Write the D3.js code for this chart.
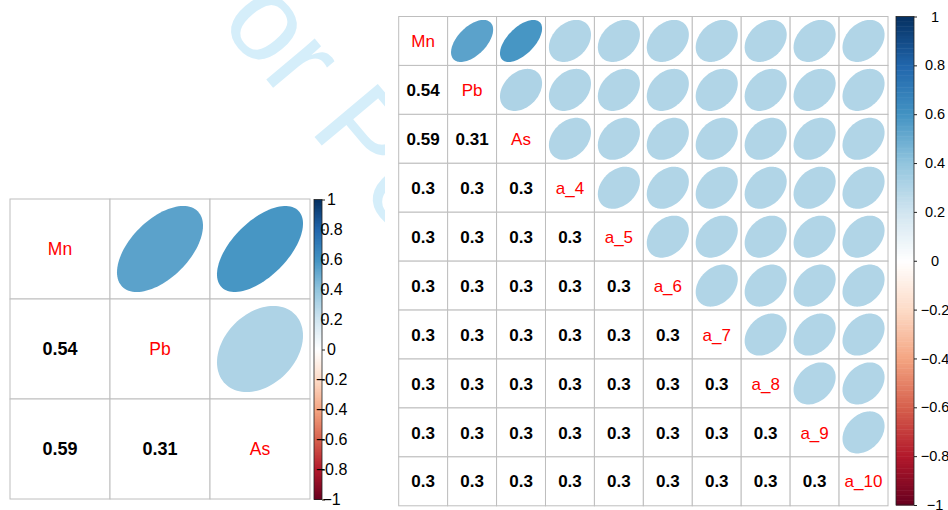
<!DOCTYPE html>
<html>
<head>
<meta charset="utf-8">
<script src="https://cdn.jsdelivr.net/npm/d3@7"></script>
<style>
  html, body { margin: 0; padding: 0; background: #fff; }
  svg { display: block; font-family: "Liberation Sans", Arial, Helvetica, sans-serif; }
</style>
</head>
<body>
<svg id="chart" width="948" height="510"></svg>
<script>
// Variables and lower-triangle correlations, small matrix
const smallVars = ["Mn", "Pb", "As"];
const smallLower = [
  [],
  [0.54],
  [0.59, 0.31]
];

// Variables and lower-triangle correlations, extended matrix
const bigVars = ["Mn", "Pb", "As", "a_4", "a_5", "a_6", "a_7", "a_8", "a_9", "a_10"];
const bigLower = [
  [],
  [0.54],
  [0.59, 0.31],
  [0.3, 0.3, 0.3],
  [0.3, 0.3, 0.3, 0.3],
  [0.3, 0.3, 0.3, 0.3, 0.3],
  [0.3, 0.3, 0.3, 0.3, 0.3, 0.3],
  [0.3, 0.3, 0.3, 0.3, 0.3, 0.3, 0.3],
  [0.3, 0.3, 0.3, 0.3, 0.3, 0.3, 0.3, 0.3],
  [0.3, 0.3, 0.3, 0.3, 0.3, 0.3, 0.3, 0.3, 0.3]
];

// Colour legend tick values and labels
const legendTicks = [1, 0.8, 0.6, 0.4, 0.2, 0, -0.2, -0.4, -0.6, -0.8, -1];
const legendLabels = ["1", "0.8", "0.6", "0.4", "0.2", "0", "\u22120.2", "\u22120.4", "\u22120.6", "\u22120.8", "\u22121"];

// Diverging red-blue palette, -1 .. 1
const palette = ["#67001F", "#B2182B", "#D6604D", "#F4A582", "#FDDBC7", "#FFFFFF",
                 "#D1E5F0", "#92C5DE", "#4393C3", "#2166AC", "#053061"];
const color = d3.scaleLinear()
  .domain(d3.range(palette.length).map(i => -1 + 2 * i / (palette.length - 1)))
  .range(palette)
  .interpolate(d3.interpolateRgb);

const svg = d3.select("#chart");

// Diagonal watermark
svg.append("text")
  .attr("transform", "translate(171,-34) rotate(50)")
  .attr("font-size", 120)
  .attr("fill", "#d5eefa")
  .text("For Peer Review");

// White backdrop of the extended panel
svg.append("rect")
  .attr("x", 385).attr("y", 0).attr("width", 948 - 385).attr("height", 510)
  .attr("fill", "#fff");

// Ellipse outline for a correlation r in a unit cell (centre 0, y up)
function ellipsePoints(r, n = 100) {
  const d = Math.acos(r);
  return d3.range(n).map(i => {
    const k = 2 * Math.PI * i / n;
    return [Math.cos(k + d / 2) / 2, Math.cos(k - d / 2) / 2];
  });
}

function buildMatrix(vars, lower) {
  const n = vars.length;
  const m = vars.map((_, i) => vars.map((_, j) => {
    if (i === j) return 1;
    return i > j ? lower[i][j] : lower[j][i];
  }));
  return m;
}

function corrPanel(opts) {
  const { vars, lower, x0, y0, size, numSize, labSize, bar } = opts;
  const m = buildMatrix(vars, lower);
  const g = svg.append("g");
  const x = d3.scaleBand().domain(vars).range([x0, x0 + size]);
  const y = d3.scaleBand().domain(vars).range([y0, y0 + size]);
  const bw = x.bandwidth();

  const cells = [];
  vars.forEach((ri, i) => vars.forEach((cj, j) => cells.push({ i, j, row: ri, col: cj, v: m[i][j] })));

  // grid
  g.selectAll("rect.cell").data(cells).join("rect")
    .attr("class", "cell")
    .attr("x", d => x(d.col)).attr("y", d => y(d.row))
    .attr("width", bw).attr("height", bw)
    .attr("fill", "#fff").attr("stroke", "#bebebe").attr("stroke-width", 1);

  // upper triangle: ellipses
  const line = d3.line();
  const s = 0.86 * bw;
  g.selectAll("path.ell").data(cells.filter(d => d.j > d.i)).join("path")
    .attr("class", "ell")
    .attr("d", d => {
      const cx = x(d.col) + bw / 2, cy = y(d.row) + bw / 2;
      return line(ellipsePoints(d.v).map(p => [cx + p[0] * s, cy - p[1] * s])) + "Z";
    })
    .attr("fill", d => color(d.v));

  // lower triangle: numbers
  g.selectAll("text.num").data(cells.filter(d => d.i > d.j)).join("text")
    .attr("class", "num")
    .attr("x", d => x(d.col) + bw / 2).attr("y", d => y(d.row) + bw / 2)
    .attr("text-anchor", "middle").attr("dy", "0.36em")
    .attr("font-size", numSize).attr("font-weight", "bold").attr("fill", "#000")
    .text(d => String(d.v));

  // diagonal: variable names
  g.selectAll("text.lab").data(cells.filter(d => d.i === d.j)).join("text")
    .attr("class", "lab")
    .attr("x", d => x(d.col) + bw / 2).attr("y", d => y(d.row) + bw / 2)
    .attr("text-anchor", "middle").attr("dy", "0.36em")
    .attr("font-size", labSize).attr("fill", "#ff0000")
    .text(d => d.row);

  // colour legend
  const ly = d3.scaleLinear().domain([-1, 1]).range([bar.y1, bar.y0]);
  const steps = d3.range(200).map(i => -1 + 2 * i / 200);
  const step = 2 / 200;
  g.selectAll("rect.cl").data(steps).join("rect")
    .attr("class", "cl")
    .attr("x", bar.x).attr("width", bar.w)
    .attr("y", d => ly(d + step))
    .attr("height", d => ly(d) - ly(d + step) + 0.5)
    .attr("fill", d => color(d + step / 2));
  g.append("rect")
    .attr("x", bar.x).attr("y", bar.y0).attr("width", bar.w).attr("height", bar.y1 - bar.y0)
    .attr("fill", "none").attr("stroke", "#222").attr("stroke-width", 0.8);

  const axis = d3.axisRight(ly).tickValues(legendTicks).tickSize(3)
    .tickFormat((d, i) => legendLabels[i]);
  const ag = g.append("g").attr("transform", `translate(${bar.x + bar.w},0)`).call(axis);
  ag.select(".domain").remove();
  ag.selectAll(".tick line").attr("stroke", "#222");
  ag.selectAll(".tick text")
    .attr("x", bar.labelX - (bar.x + bar.w))
    .attr("text-anchor", "middle")
    .attr("font-size", bar.fontSize)
    .attr("font-family", "Liberation Sans, Arial, Helvetica, sans-serif")
    .attr("fill", "#000");
}

corrPanel({
  vars: smallVars, lower: smallLower,
  x0: 10, y0: 199, size: 300, numSize: 18, labSize: 17.5,
  bar: { x: 314, w: 8, y0: 199.5, y1: 499.5, labelX: 331.5, fontSize: 16 }
});

corrPanel({
  vars: bigVars, lower: bigLower,
  x0: 398.7, y0: 16.5, size: 489.3, numSize: 17, labSize: 17,
  bar: { x: 896, w: 18, y0: 16.5, y1: 505, labelX: 935, fontSize: 14.5 }
});
</script>
</body>
</html>
